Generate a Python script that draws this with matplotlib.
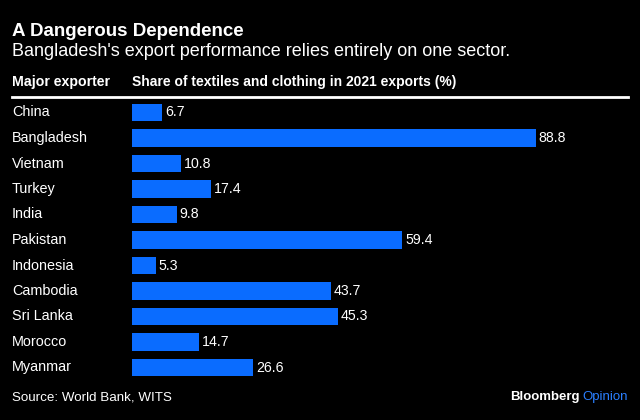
import matplotlib
matplotlib.use("Agg")
import matplotlib.pyplot as plt

countries = ["China", "Bangladesh", "Vietnam", "Turkey", "India", "Pakistan",
             "Indonesia", "Cambodia", "Sri Lanka", "Morocco", "Myanmar"]
shares = [6.7, 88.8, 10.8, 17.4, 9.8, 59.4, 5.3, 43.7, 45.3, 14.7, 26.6]

W, H = 640, 420
fig = plt.figure(figsize=(6.4, 4.2), dpi=100, facecolor="black")
plt.rcParams['font.family'] = ['Liberation Sans', 'DejaVu Sans']

def px(x, y):
    return x / W, 1 - y / H

# axes: x 132..628 px, y 99.25..379.75 px
ax_left, ax_right = 132, 628
ax_top, ax_bot = 99.75, 380.25
ax = fig.add_axes([ax_left / W, 1 - ax_bot / H, (ax_right - ax_left) / W, (ax_bot - ax_top) / H])
ax.set_facecolor("black")
n = len(countries)
ypos = list(range(n))
ax.barh(ypos, shares, height=0.7, color="#0a6cff")
ax.set_xlim(0, (ax_right - ax_left) / 4.55)
ax.set_ylim(n - 0.5, -0.5)
ax.axis("off")
for y, v, c in zip(ypos, shares, countries):
    ax.text(v + 0.6, y, f"{v}", color="white", va="center", ha="left", fontsize=10.2)
    ax.annotate(c, xy=(0, y), xycoords=("figure fraction", "data"), xytext=(12, 0),
                textcoords="offset pixels", color="white", va="center", ha="left", fontsize=10.4)

fig.text(*px(12, 31), "A Dangerous Dependence", color="white", fontsize=13.5,
         fontweight="bold", va="center", ha="left")
fig.text(*px(12, 51), "Bangladesh's export performance relies entirely on one sector.",
         color="white", fontsize=13, va="center", ha="left")
fig.text(*px(12, 82), "Major exporter", color="white", fontsize=10.2,
         fontweight="bold", va="center", ha="left")
fig.text(*px(132, 82), "Share of textiles and clothing in 2021 exports (%)", color="white",
         fontsize=10, fontweight="bold", va="center", ha="left")
fig.add_artist(plt.Line2D([12 / W, 628 / W], [1 - 97 / H, 1 - 97 / H], color="white", lw=2))

fig.text(*px(12, 398), "Source: World Bank, WITS", color="white", fontsize=9.6,
         va="center", ha="left")
t = fig.text(*px(628, 397), "Opinion", color="#2a7fff", fontsize=9.5, va="center", ha="right")
fig.canvas.draw()
bb = t.get_window_extent()
fig.text(bb.x0 - 3, bb.y0 + bb.height / 2, "Bloomberg", color="white", fontsize=9.5,
         fontweight="bold", va="center", ha="right", transform=None)

fig.savefig("out.png", dpi=100, facecolor="black")
